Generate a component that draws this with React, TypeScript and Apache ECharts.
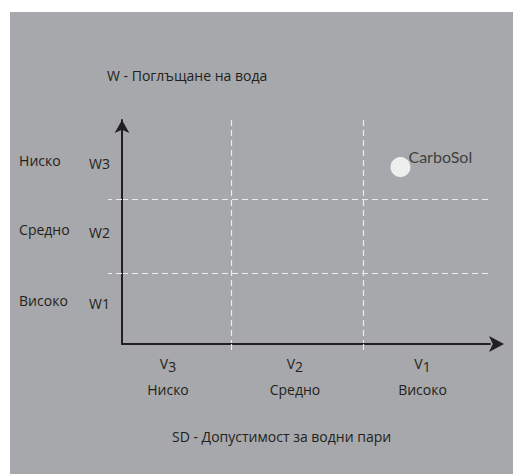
import React, { useEffect, useRef } from "react";
import * as echarts from "echarts";

// Zone boundaries (dashed lines) in axis units
const xBoundaries = [0.89, 1.97];
const yBoundaries = [0.95, 1.94];

// X axis category labels
const xLabelPos = [0.375, 1.41, 2.45];
const xLabelSubs = ["3", "2", "1"];
const xLabelNames = ["Ниско", "Средно", "Високо"];

// Y axis category labels
const yLabelPos = [0.54, 1.49, 2.42];
const yLabelCodes = ["W1", "W2", "W3"];
const yLabelNames = ["Високо", "Средно", "Ниско"];

// Products
const pointNames = ["CarboSol"];
const pointX = [2.27];
const pointY = [2.37];

const yTitle = "W - Поглъщане на вода";
const xTitle = "SD - Допустимост за водни пари";

const FONT = "Open Sans";
const FS = 14;
const TEXT = "#231f20";
const DASH = "#ececec";

function findIdx(arr: number[], v: number) {
  let best = 0;
  for (let i = 0; i < arr.length; i++) {
    if (Math.abs(arr[i] - v) < Math.abs(arr[best] - v)) best = i;
  }
  return best;
}

export default function App() {
  const ref = useRef<HTMLDivElement>(null);
  useEffect(() => {
    if (!ref.current) return;
    const chart = echarts.init(ref.current, null, { renderer: "svg" });
    chart.setOption({
      animation: false,
      backgroundColor: "transparent",
      title: [
        {
          text: yTitle,
          left: 107,
          top: 68,
          padding: 0,
          textStyle: { fontFamily: FONT, fontSize: FS, fontWeight: "normal", color: TEXT },
        },
        {
          text: xTitle,
          left: 172,
          top: 429,
          padding: 0,
          textStyle: { fontFamily: FONT, fontSize: FS, fontWeight: "normal", color: TEXT },
        },
      ],
      grid: { left: 122, top: 120, right: 23, bottom: 130, containLabel: false, outerBoundsMode: "none" },
      xAxis: {
        type: "value",
        min: 0,
        max: 3,
        axisLine: {
          show: true,
          symbol: ["none", "arrow"],
          symbolSize: [12, 15],
          symbolOffset: [0, 14],
          lineStyle: { color: TEXT, width: 2 },
        },
        axisTick: {
          show: true,
          customValues: xBoundaries,
          length: 9,
          inside: false,
          lineStyle: { color: DASH, width: 1.2, type: [6, 4] },
        },
        splitLine: { show: true, lineStyle: { color: DASH, width: 1.2, type: [6, 4] } },
        axisLabel: {
          customValues: xLabelPos,
          margin: 11,
          fontFamily: FONT,
          color: TEXT,
          formatter: (v: number) => {
            const i = findIdx(xLabelPos, v);
            return `{v|V}{s|${xLabelSubs[i]}}\n{n|${xLabelNames[i]}}`;
          },
          rich: {
            v: { fontFamily: FONT, fontSize: FS, color: TEXT, padding: [0, 0, 6, 0], lineHeight: 22 },
            s: { fontFamily: FONT, fontSize: FS, color: TEXT, lineHeight: 22 },
            n: { fontFamily: FONT, fontSize: FS, color: TEXT, lineHeight: 24 },
          },
        },
      },
      yAxis: {
        type: "value",
        min: 0,
        max: 3,
        axisLine: {
          show: true,
          symbol: ["none", "arrow"],
          symbolSize: [11, 13],
          lineStyle: { color: TEXT, width: 2 },
        },
        axisTick: {
          show: true,
          customValues: yBoundaries,
          length: 14,
          inside: false,
          lineStyle: { color: DASH, width: 1.2, type: [6, 4] },
        },
        splitLine: { show: true, lineStyle: { color: DASH, width: 1.2, type: [6, 4] } },
        axisLabel: {
          customValues: yLabelPos,
          margin: 12,
          fontFamily: FONT,
          color: TEXT,
          formatter: (v: number) => {
            const i = findIdx(yLabelPos, v);
            return `{a|${yLabelNames[i]}}{b|${yLabelCodes[i]}}`;
          },
          rich: {
            a: { fontFamily: FONT, fontSize: FS, color: TEXT, width: 70, align: "left", padding: [0, 0, 6, 0] },
            b: { fontFamily: FONT, fontSize: FS, color: TEXT },
          },
        },
      },
      series: [
        {
          type: "scatter",
          symbol: "circle",
          symbolSize: 20,
          itemStyle: { color: "#ffffff" },
          data: pointNames.map((n, i) => ({ name: n, value: [pointX[i], pointY[i]] })),
          label: {
            show: true,
            position: [18, -9],
            formatter: "{b}",
            fontFamily: "Lato",
            fontSize: 16,
            color: TEXT,
          },
        },
      ],
    });
    return () => chart.dispose();
  }, []);

  return (
    <div style={{ position: "fixed", left: 0, top: 0, width: 513, height: 474, background: "#ffffff" }}>
      <div style={{ position: "absolute", left: 10, top: 12, width: 503, height: 462, background: "#a7a8ab" }} />
      <div ref={ref} style={{ position: "absolute", left: 0, top: 0, width: 513, height: 474 }} />
    </div>
  );
}
